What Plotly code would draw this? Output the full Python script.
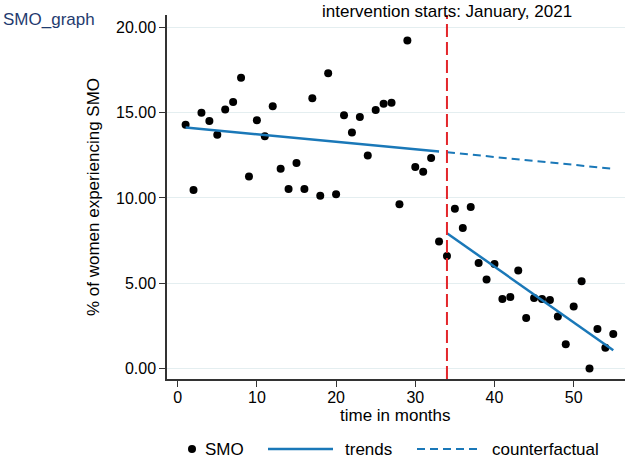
import plotly.graph_objects as go

# ---- data ----
months = list(range(1, 56))
smo = [14.29, 10.47, 14.99, 14.52, 13.70, 15.18, 15.63, 17.05, 11.26, 14.56,
       13.62, 15.38, 11.71, 10.53, 12.05, 10.53, 15.85, 10.13, 17.31, 10.22,
       14.85, 13.84, 14.75, 12.49, 15.16, 15.53, 15.59, 9.63, 19.23, 11.81,
       11.54, 12.34, 7.44, 6.59, 9.37, 8.24, 9.47, 6.18, 5.22, 6.12,
       4.07, 4.19, 5.75, 2.96, 4.13, 4.07, 4.01, 3.04, 1.42, 3.63,
       5.12, 0.00, 2.32, 1.21, 2.02]

pre_trend_x = [1, 33]
pre_trend_y = [14.13, 12.73]
post_trend_x = [34, 55]
post_trend_y = [7.93, 1.07]
cf_x = [34, 55]
cf_y = [12.68, 11.71]

intervention_month = 34
x_ticks = [0, 10, 20, 30, 40, 50]
y_ticks = [0, 5, 10, 15, 20]

# ---- layout geometry ----
W, H = 625, 458
ML, MR, MT, MB = 167, 0, 15, 79
PW, PH = W - ML - MR, H - MT - MB
FONT = "Liberation Sans"
BLUE = "#1a78b8"
RED = "#e3262b"


def px(xp):
    return (xp - ML) / PW


def py(yp):
    return (H - MB - yp) / PH


fig = go.Figure()
fig.add_trace(go.Scatter(x=months, y=smo, mode="markers", name="SMO",
                         marker=dict(color="black", size=8), showlegend=False))
fig.add_trace(go.Scatter(x=pre_trend_x, y=pre_trend_y, mode="lines", name="trends",
                         line=dict(color=BLUE, width=2.5), showlegend=False))
fig.add_trace(go.Scatter(x=post_trend_x, y=post_trend_y, mode="lines", name="trends",
                         line=dict(color=BLUE, width=2.5), showlegend=False))
fig.add_trace(go.Scatter(x=cf_x, y=cf_y, mode="lines", name="counterfactual",
                         line=dict(color=BLUE, width=2, dash="8px,5px"), showlegend=False))

shapes = [
    dict(type="line", xref="x", yref="paper", x0=intervention_month, x1=intervention_month,
         y0=0, y1=1, line=dict(color=RED, width=2, dash="13px,5px"), layer="above"),
    # legend
    dict(type="circle", xref="paper", yref="paper", x0=px(188), x1=px(196),
         y0=py(453), y1=py(445), fillcolor="black", line=dict(width=0)),
    dict(type="line", xref="paper", yref="paper", x0=px(268), x1=px(333),
         y0=py(449), y1=py(449), line=dict(color=BLUE, width=2.5)),
    dict(type="line", xref="paper", yref="paper", x0=px(417), x1=px(480),
         y0=py(449), y1=py(449), line=dict(color=BLUE, width=2, dash="8px,5px")),
]


def label(text, x, y, size=17, color="black", xanchor="left", xref="paper"):
    return dict(text=text, xref=xref, yref="paper", x=x, y=y, xanchor=xanchor,
                yanchor="middle", showarrow=False,
                font=dict(size=size, color=color, family=FONT))


annotations = [
    label("intervention starts: January, 2021", intervention_month, py(11),
          xanchor="center", xref="x"),
    label("SMO_graph", px(1), py(20), color="#1f3b6f"),
    label("time in months", px(395), py(415), xanchor="center"),
    label("SMO", px(203), py(449)),
    label("trends", px(343), py(449)),
    label("counterfactual", px(490), py(449)),
]

fig.update_layout(
    width=W, height=H,
    margin=dict(l=ML, r=MR, t=MT, b=MB, pad=0),
    paper_bgcolor="white", plot_bgcolor="white",
    font=dict(family=FONT, size=16, color="black"),
    showlegend=False,
    shapes=shapes,
    annotations=annotations,
    xaxis=dict(range=[-1.35, 56.48], tickvals=x_ticks, ticks="outside", ticklen=6,
               tickcolor="#333", tickwidth=1.3, showline=True, linecolor="#333",
               linewidth=1.5, showgrid=False, zeroline=False, ticklabelstandoff=-3,
               tickfont=dict(size=16, family=FONT)),
    yaxis=dict(range=[-0.62, 20.73], tickvals=y_ticks, tickformat=".2f",
               ticks="outside", ticklen=6, tickcolor="#333", tickwidth=1.3,
               showline=True, linecolor="#333", linewidth=1.5,
               showgrid=True, gridcolor="#e4eef0", gridwidth=1, zeroline=False,
               title=dict(text="% of women experiencing SMO", standoff=12,
                          font=dict(size=17, family=FONT)),
               tickfont=dict(size=16, family=FONT)),
)

fig.write_html("out.html")
